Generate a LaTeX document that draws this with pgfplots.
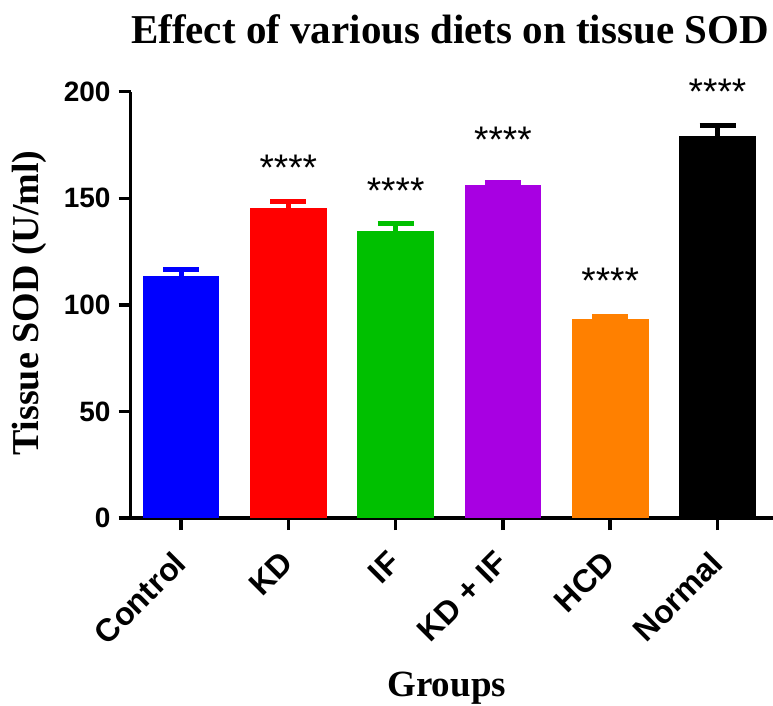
\documentclass[border=0pt]{standalone}
\usepackage{pgfplots}
\pgfplotsset{compat=1.18}
\usepackage{fontspec}
\setmainfont{Liberation Serif}
\newfontfamily\arial{Liberation Sans}

\definecolor{cblue}{RGB}{0,0,255}
\definecolor{cred}{RGB}{255,0,0}
\definecolor{cgreen}{RGB}{0,192,0}
\definecolor{cpurple}{RGB}{168,0,226}
\definecolor{corange}{RGB}{255,128,0}

% bar style: one colour per group, upper error bar only
\pgfplotsset{
  groupbar/.style={
    fill=#1, draw=none, bar shift=0pt,
    error bars/.cd,
      y dir=plus, y explicit,
      error bar style={line width=5pt, draw=#1},
      error mark options={rotate=90, mark size=18pt, line width=5pt, draw=#1},
  },
}
\newcommand{\sig}{\arial\fontsize{37}{37}\selectfont ****}

\begin{document}
\begin{tikzpicture}
\useasboundingbox (0,0) rectangle (773pt,705pt);
\begin{axis}[
  at={(130.7pt,187pt)}, anchor=south west,
  scale only axis, width=642.3pt, height=426.3pt,
  ybar, bar width=76.7pt,
  xmin=-0.469, xmax=5.517, ymin=0, ymax=200,
  enlargelimits=false, clip=false,
  axis x line*=bottom, axis y line*=left,
  axis line style={line width=3.5pt, black},
  xtick={0,1,2,3,4,5},
  xticklabels={Control,KD,IF,KD + IF,HCD,Normal},
  ytick={0,50,100,150,200},
  xtick pos=left, ytick pos=left,
  tick align=outside, major tick length=12pt,
  tick style={line width=3.5pt, black},
  /pgf/number format/assume math mode=true,
  yticklabel style={font=\arial\bfseries\fontsize{28}{28}\selectfont, anchor=east, inner sep=0pt, xshift=-8pt},
  xticklabel style={font=\arial\bfseries\fontsize{32}{32}\selectfont, rotate=45, anchor=north east, inner sep=0pt, xshift=-20pt, yshift=-7pt},
  title={Effect of various diets on tissue SOD},
  title style={at={(0.4971,1.100)}, anchor=base, font=\bfseries\fontsize{41}{41}\selectfont},
  xlabel={Groups},
  xlabel style={at={(0.492,-0.4176)}, anchor=base, font=\bfseries\fontsize{37}{37}\selectfont},
  ylabel={Tissue SOD (U/ml)},
  ylabel style={at={(-0.1443,0.504)}, anchor=base, font=\bfseries\fontsize{38}{38}\selectfont},
]
\addplot[groupbar=cblue]   coordinates {(0,113.5) +- (0,2.9)};
\addplot[groupbar=cred]    coordinates {(1,145.5) +- (0,3.1)};
\addplot[groupbar=cgreen]  coordinates {(2,134.8) +- (0,3.2)};
\addplot[groupbar=cpurple] coordinates {(3,156.2) +- (0,1.4)};
\addplot[groupbar=corange] coordinates {(4,93.2)  +- (0,1.5)};
\addplot[groupbar=black]   coordinates {(5,179.2) +- (0,5.0)};

% significance marks, centred above each bar
\node[anchor=base, yshift=-21pt] at (axis cs:1,168.0) {\sig};
\node[anchor=base, yshift=-21pt] at (axis cs:2,157.4) {\sig};
\node[anchor=base, yshift=-21pt] at (axis cs:3,181.2) {\sig};
\node[anchor=base, yshift=-21pt] at (axis cs:4,115.1) {\sig};
\node[anchor=base, yshift=-21pt] at (axis cs:5,204.0) {\sig};
\end{axis}
\end{tikzpicture}
\end{document}
